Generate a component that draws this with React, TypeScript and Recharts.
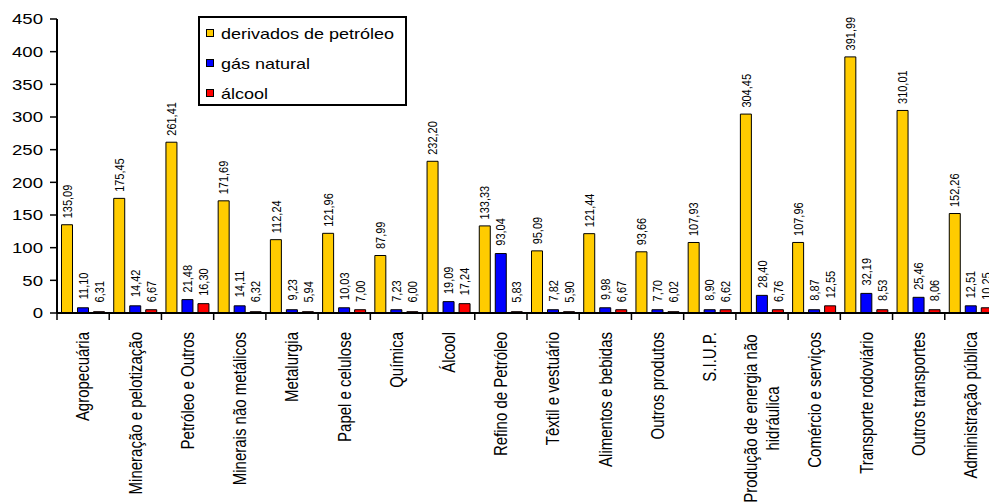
import { Bar, BarChart, LabelList, Legend, XAxis, YAxis } from "recharts";

const FONT = "'Liberation Sans', Arial, sans-serif";

const categories = [
  "Agropecuária", "Mineração e pelotização", "Petróleo e Outros", "Minerais não metálicos",
  "Metalurgia", "Papel e celulose", "Química", "Álcool", "Refino de Petróleo",
  "Têxtil e vestuário", "Alimentos e bebidas", "Outros produtos", "S.I.U.P.",
  "Produção de energia não\nhidráulica", "Comércio e serviços", "Transporte rodoviário",
  "Outros transportes", "Administração pública",
];

const derivados = [135.09, 175.45, 261.41, 171.69, 112.24, 121.96, 87.99, 232.2, 133.33, 95.09, 121.44, 93.66, 107.93, 304.45, 107.96, 391.99, 310.01, 152.26];
// printed labels of gás natural / álcool
const gasLabels = [11.1, 14.42, 21.48, 14.11, 9.23, 10.03, 7.23, 19.09, 93.04, 7.82, 9.98, 7.7, 8.9, 28.4, 8.87, 32.19, 25.46, 12.51];
const alcoolLabels = [6.31, 6.67, 16.3, 6.32, 5.94, 7.0, 6.0, 17.24, 5.83, 5.9, 6.67, 6.02, 6.62, 6.76, 12.55, 8.53, 8.06, 10.25];
// bar heights as drawn in the picture (not the same as the labels)
const gasBars = [8, 11, 20.5, 11, 5, 8, 5, 17.4, 91, 5, 8, 5, 5, 27, 5, 30, 24, 11];
const alcoolBars = [2, 5, 14.3, 2, 2, 5, 2, 14.3, 2, 2, 5, 2, 5, 5, 11, 5, 5, 8];
const yTicks = [0, 50, 100, 150, 200, 250, 300, 350, 400, 450];

const data = categories.map((c, i) => ({
  name: c,
  derivados: derivados[i],
  gas: gasBars[i],
  alcool: alcoolBars[i],
}));

const fmt = (v: number) => v.toFixed(2).replace(".", ",");

const makeLabel = (labels: number[], bars: number[]) => (p: any) => {
  const { x, y, width, height, index } = p;
  const base = y + height;
  const k = bars[index] ? height / bars[index] : 0;
  const top = base - labels[index] * k;
  const cx = x + width / 2;
  return (
    <text
      transform={`translate(${cx},${top - 6.5}) scale(1.2,1) rotate(-90)`}
      textAnchor="start"
      dy="0.35em"
      fontSize={11}
      fontFamily={FONT}
      fill="#000"
    >
      {fmt(labels[index])}
    </text>
  );
};

function CategoryTick(props: any) {
  const { x, y, payload } = props;
  const half = payload.offset ?? 26;
  const lines = String(payload.value).split("\n");
  const multi = lines.length > 1;
  const longest = Math.max(...lines.map((l) => l.length));
  const anchorY = multi ? y + 21 + (longest * 15 * 0.49) / 2 : y + 19;
  return (
    <g>
      <line x1={x - half} x2={x - half} y1={y} y2={y + 7} stroke="#000" strokeWidth={1.5} />
      <text
        transform={`translate(${x},${anchorY}) scale(1.2,1) rotate(-90)`}
        textAnchor={multi ? "middle" : "end"}
        fontSize={15}
        fontFamily={FONT}
        fill="#000"
      >
        {lines.map((l, i) => (
          <tspan key={i} x={0} y={(i - (lines.length - 1) / 2) * 18.5} dy="0.35em">
            {l}
          </tspan>
        ))}
      </text>
    </g>
  );
}

function ValueTick(props: any) {
  const { x, y, payload } = props;
  return (
    <text
      transform={`translate(${x},${y}) scale(1.2,1)`}
      textAnchor="end"
      dy="0.35em"
      fontSize={15.5}
      fontFamily={FONT}
      fill="#000"
    >
      {payload.value}
    </text>
  );
}

function LegendBox(props: any) {
  const items = props.payload || [];
  return (
    <div
      style={{
        border: "2px solid #000",
        width: 205,
        height: 86,
        background: "#fff",
        fontFamily: FONT,
        fontSize: 15,
        color: "#000",
      }}
    >
      {items.map((it: any) => (
        <div key={it.value} style={{ height: 30, display: "flex", alignItems: "center", paddingLeft: 6 }}>
          <span
            style={{
              display: "inline-block",
              width: 6,
              height: 6,
              border: "1.5px solid #000",
              background: it.color,
            }}
          />
          <span
            style={{
              display: "inline-block",
              marginLeft: 7,
              whiteSpace: "nowrap",
              transform: "scaleX(1.2)",
              transformOrigin: "left center",
            }}
          >
            {it.value}
          </span>
        </div>
      ))}
    </div>
  );
}

export default function App() {
  return (
    <div style={{ width: 989, height: 504, overflow: "hidden", position: "relative", background: "#fff" }}>
      <style>{"body{margin:0;overflow:hidden}"}</style>
      <BarChart
        width={998}
        height={504}
        data={data}
        margin={{ top: 19, right: 1, bottom: 0, left: 7 }}
        barCategoryGap={4.5}
        barGap={5}
      >
        <XAxis
          dataKey="name"
          interval={0}
          height={191}
          tickSize={0}
          tickMargin={0}
          tickLine={false}
          axisLine={{ stroke: "#000", strokeWidth: 2 }}
          tick={<CategoryTick />}
        />
        <YAxis
          width={50}
          domain={[0, 450]}
          ticks={yTicks}
          interval={0}
          tickSize={7}
          tickMargin={7}
          axisLine={{ stroke: "#000", strokeWidth: 2 }}
          tickLine={{ stroke: "#000", strokeWidth: 1.5 }}
          tick={<ValueTick />}
        />
        <Legend
          layout="horizontal"
          verticalAlign="middle"
          align="center"
          content={<LegendBox />}
          wrapperStyle={{ position: "absolute", left: 198, top: 16, width: "auto", height: "auto" }}
        />
        <Bar dataKey="derivados" name="derivados de petróleo" fill="#FFCC00" stroke="#000" strokeWidth={1} isAnimationActive={false}>
          <LabelList dataKey="derivados" content={makeLabel(derivados, derivados)} />
        </Bar>
        <Bar dataKey="gas" name="gás natural" fill="#0000FF" stroke="#000" strokeWidth={1} isAnimationActive={false}>
          <LabelList dataKey="gas" content={makeLabel(gasLabels, gasBars)} />
        </Bar>
        <Bar dataKey="alcool" name="álcool" fill="#FF0000" stroke="#000" strokeWidth={1} isAnimationActive={false}>
          <LabelList dataKey="alcool" content={makeLabel(alcoolLabels, alcoolBars)} />
        </Bar>
      </BarChart>
    </div>
  );
}
